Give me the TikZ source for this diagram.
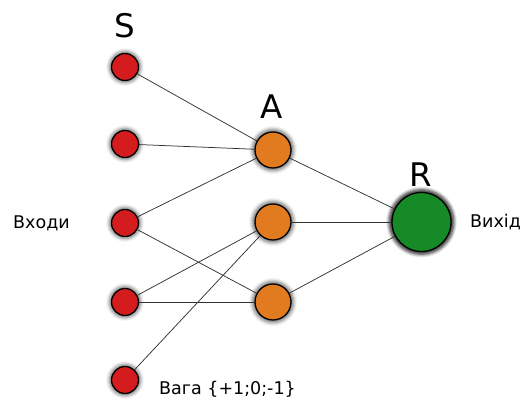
\documentclass[tikz,border=0pt]{standalone}
\usepackage{fontspec}
\setmainfont{DejaVu Sans}
\usetikzlibrary{shadows.blur}
\definecolor{sred}{RGB}{212,28,30}
\definecolor{aorange}{RGB}{226,123,32}
\definecolor{rgreen}{RGB}{22,138,38}
\tikzset{
  x=1pt,y=-1pt,
  neuron/.style={circle,draw=black,line width=1.3pt,inner sep=0pt,
    blur shadow={shadow xshift=0pt,shadow yshift=0pt,shadow scale=1.15,shadow blur radius=3pt,shadow opacity=55}},
  snode/.style={neuron,fill=sred,minimum size=27pt},
  anode/.style={neuron,fill=aorange,minimum size=36pt},
  rnode/.style={neuron,fill=rgreen,minimum size=59pt,
    blur shadow={shadow xshift=0pt,shadow yshift=0pt,shadow scale=1.09,shadow blur radius=3pt,shadow opacity=55}},
  biglabel/.style={font=\fontsize{32.5}{32.5}\selectfont,inner sep=0pt,anchor=base},
  txt/.style={font=\fontsize{17.5}{17.5}\selectfont,inner sep=0pt,anchor=base west},
  link/.style={draw=black!80,line width=0.75pt}
}
\begin{document}
\begin{tikzpicture}
\useasboundingbox (0,0) rectangle (523,403);
\node[snode] (s1) at (125,67) {};
\node[snode] (s2) at (125,144) {};
\node[snode] (s3) at (125,223) {};
\node[snode] (s4) at (125,302) {};
\node[snode] (s5) at (125,380) {};
\node[anode] (a1) at (273,150) {};
\node[anode] (a2) at (273,222) {};
\node[anode] (a3) at (273,302) {};
\node[rnode] (r) at (421.5,222) {};
\node[biglabel] (ls) at (125,38) {S};
\node[biglabel] (la) at (272,119) {A};
\node[biglabel] (lr) at (421,187) {R};
\node[txt] (in) at (13,229) {Входи};
\node[txt] (out) at (470,228) {Вихід};
\node[txt] (w) at (159,395) {Вага \{+1;0;-1\}};
\path[link] (s1) -- (a1);
\path[link] (s2) -- (a1);
\path[link] (s3) -- (a1);
\path[link] (s3) -- (a3);
\path[link] (s4) -- (a2);
\path[link] (s4) -- (a3);
\path[link] (s5) -- (a2);
\path[link] (a1) -- (r);
\path[link] (a2) -- (r);
\path[link] (a3) -- (r);
\end{tikzpicture}
\end{document}
